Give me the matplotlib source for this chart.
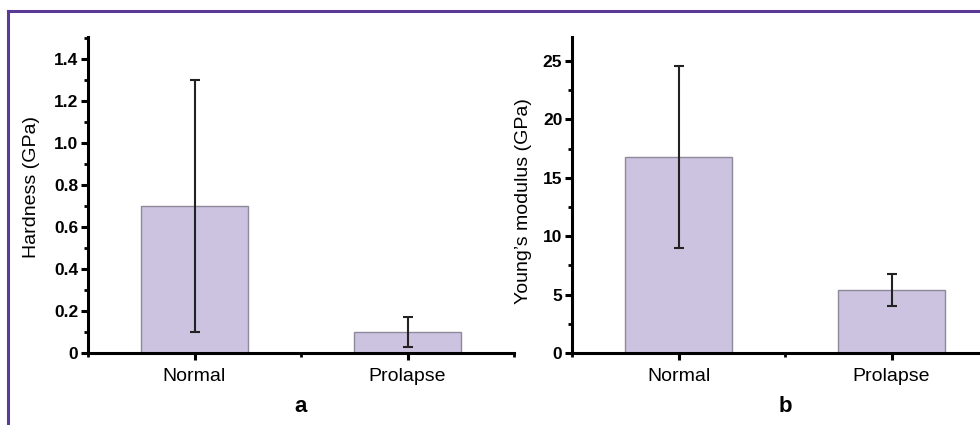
import matplotlib
matplotlib.use("Agg")
import matplotlib.pyplot as plt
from matplotlib.lines import Line2D
from matplotlib.ticker import MultipleLocator

plt.rcParams["font.family"] = ["Liberation Sans", "DejaVu Sans"]

categories = ["Normal", "Prolapse"]
hardness = [0.70, 0.10]
hardness_lo = [0.10, 0.03]
hardness_hi = [1.30, 0.17]
modulus = [16.8, 5.4]
modulus_lo = [9.0, 4.0]
modulus_hi = [24.6, 6.8]

BAR = "#cbc3df"
EDGE = "#8e8a9c"
FRAME = "#5a3a96"

W, H = 980, 425
fig = plt.figure(figsize=(W / 100, H / 100), dpi=100)

# purple frame (cropped at right/bottom in the source)
fig.add_artist(Line2D([8 / W, 8 / W], [0, 1 - 11 / H], color=FRAME, lw=2.2,
                      transform=fig.transFigure))
fig.add_artist(Line2D([8 / W, 1], [1 - 11 / H, 1 - 11 / H], color=FRAME, lw=2.2,
                      transform=fig.transFigure))


def panel(left, vals, lo, hi, ylim, major, minor, ylabel, lab_x, lab_y, tag, fmt):
    ax = fig.add_axes([left / W, (H - 353) / H, 426 / W, 316 / H])
    x = [1, 2]
    err = [[v - l for v, l in zip(vals, lo)], [h - v for v, h in zip(vals, hi)]]
    ax.bar(x, vals, width=0.5, color=BAR, edgecolor=EDGE, linewidth=1.0, zorder=2)
    ax.errorbar(x, vals, yerr=err, fmt="none", ecolor="#222222", elinewidth=1.5,
                capsize=3.5, capthick=1.5, zorder=3)
    ax.set_xlim(0.5, 2.5)
    ax.set_ylim(*ylim)
    ax.set_xticks(x)
    ax.set_xticklabels(categories, fontsize=14)
    ax.xaxis.set_minor_locator(MultipleLocator(0.5))
    ax.yaxis.set_major_locator(MultipleLocator(major))
    ax.yaxis.set_minor_locator(MultipleLocator(minor))
    ax.yaxis.set_major_formatter(fmt)
    for t in ax.get_yticklabels():
        t.set_fontweight("bold")
        t.set_fontsize(12.5)
    for s in ["top", "right"]:
        ax.spines[s].set_visible(False)
    for s in ["left", "bottom"]:
        ax.spines[s].set_linewidth(2.2)
    ax.tick_params(which="major", direction="out", length=5, width=2.2, pad=2)
    ax.tick_params(axis="x", which="major", pad=6)
    ax.tick_params(which="minor", direction="out", length=3, width=2.0)
    ax.set_ylabel(ylabel, fontsize=14)
    ax.yaxis.set_label_coords(lab_x, lab_y)
    ax.text(0.5, -0.135, tag, transform=ax.transAxes, ha="center", va="top",
            fontsize=16, fontweight="bold")
    return ax


panel(88, hardness, hardness_lo, hardness_hi, (0, 1.505), 0.2, 0.1,
      "Hardness (GPa)", -0.113, 0.525, "a",
      lambda v, p: "0" if abs(v) < 1e-9 else f"{v:.1f}")
panel(572, modulus, modulus_lo, modulus_hi, (0, 27.05), 5, 2.5,
      "Young\u2019s modulus (GPa)", -0.094, 0.48, "b",
      lambda v, p: f"{v:.0f}")

fig.savefig("out.png", dpi=100)
